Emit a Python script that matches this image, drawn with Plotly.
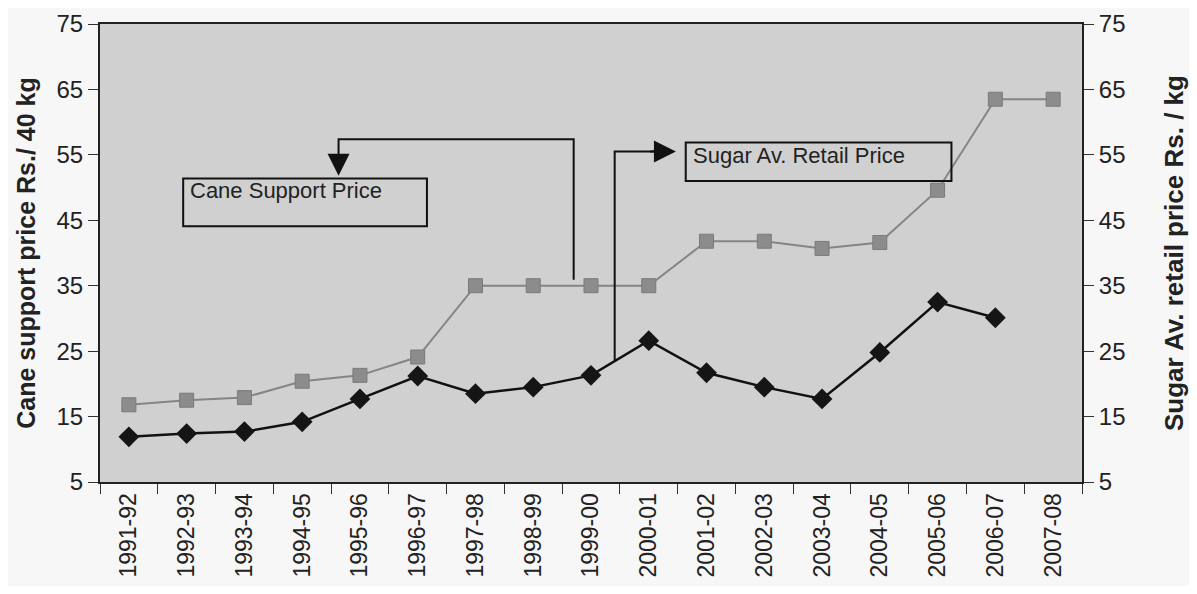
import plotly.graph_objects as go

years = ["1991-92", "1992-93", "1993-94", "1994-95", "1995-96", "1996-97", "1997-98",
         "1998-99", "1999-00", "2000-01", "2001-02", "2002-03", "2003-04", "2004-05",
         "2005-06", "2006-07", "2007-08"]
cane_support = [16.8, 17.5, 17.9, 20.4, 21.3, 24.1, 35, 35, 35, 35, 41.8, 41.8, 40.7, 41.6, 49.6, 63.5, 63.5]
sugar_retail = [11.9, 12.4, 12.7, 14.2, 17.7, 21.2, 18.5, 19.5, 21.3, 26.6, 21.7, 19.5, 17.7, 24.8, 32.5, 30.1, None]

FONT = "Liberation Sans, Arial, sans-serif"

fig = go.Figure()
fig.add_trace(go.Scatter(x=years, y=cane_support, mode="lines+markers", name="Cane Support Price",
                         line=dict(color="#858585", width=2),
                         marker=dict(symbol="square", size=14, color="#8c8c8c",
                                     line=dict(color="#7a7a7a", width=1))))
fig.add_trace(go.Scatter(x=years, y=sugar_retail, mode="lines+markers", name="Sugar Av. Retail Price",
                         yaxis="y2", line=dict(color="#111111", width=2.5),
                         marker=dict(symbol="diamond", size=16, color="#151515")))

# connector lines (data coordinates on category index)
line_style = dict(color="#111111", width=2)
fig.add_shape(type="path", xref="x", yref="y",
              path="M 7.7 35.9 L 7.7 57.4 L 3.63 57.4 L 3.63 54", line=line_style)
fig.add_shape(type="path", xref="x", yref="y",
              path="M 8.41 23.6 L 8.41 55.5 L 9.1 55.5", line=line_style)
# boxes
fig.add_shape(type="rect", xref="x", yref="y", x0=0.94, x1=5.16, y0=44.1, y1=51.4,
              line=dict(color="#111111", width=2), fillcolor="rgba(0,0,0,0)")
fig.add_shape(type="rect", xref="x", yref="y", x0=9.64, x1=14.24, y0=51.0, y1=56.9,
              line=dict(color="#111111", width=2), fillcolor="rgba(0,0,0,0)")
# arrowheads
fig.add_annotation(x=3.63, y=51.8, ax=3.63, ay=55, xref="x", yref="y", axref="x", ayref="y",
                   text="", showarrow=True, arrowhead=2, arrowsize=2.2, arrowwidth=2, arrowcolor="#111111")
fig.add_annotation(x=9.47, y=55.5, ax=9.0, ay=55.5, xref="x", yref="y", axref="x", ayref="y",
                   text="", showarrow=True, arrowhead=2, arrowsize=2.2, arrowwidth=2, arrowcolor="#111111")
# box labels
fig.add_annotation(x=1.02, y=49.6, xref="x", yref="y", text="Cane Support Price", showarrow=False,
                   xanchor="left", yanchor="middle", font=dict(family=FONT, size=22, color="#222222"))
fig.add_annotation(x=9.73, y=54.9, xref="x", yref="y", text="Sugar Av. Retail Price", showarrow=False,
                   xanchor="left", yanchor="middle", font=dict(family=FONT, size=22, color="#222222"))

axis_common = dict(range=[5, 75], tickvals=[5, 15, 25, 35, 45, 55, 65, 75], showgrid=False,
                   zeroline=False, ticks="outside", ticklen=10, tickcolor="#333333",
                   showline=True, linecolor="#222222", linewidth=2, automargin=False,
                   tickfont=dict(family=FONT, size=24, color="#222222"))

fig.update_layout(
    width=1181, height=578,
    margin=dict(l=92, r=107, t=16, b=104),
    paper_bgcolor="#f7f7f7", plot_bgcolor="#d0d0d0",
    showlegend=False,
    xaxis=dict(type="category", tickson="boundaries", ticks="outside", ticklen=10,
               tickcolor="#333333", tickangle=-90, showgrid=False, showline=True,
               linecolor="#222222", linewidth=2, mirror=True, automargin=False,
               tickfont=dict(family=FONT, size=23, color="#222222"),
               range=[-0.5, 16.5]),
    yaxis=dict(**axis_common,
               title=dict(text="<b>Cane support price Rs./ 40 kg</b>", standoff=14,
                          font=dict(family=FONT, size=25, color="#222222"))),
    yaxis2=dict(**axis_common, overlaying="y", side="right",
                title=dict(text="<b>Sugar Av. retail price Rs. / kg</b>", standoff=44,
                           font=dict(family=FONT, size=26, color="#222222"))),
)

fig.write_html("out.html")
